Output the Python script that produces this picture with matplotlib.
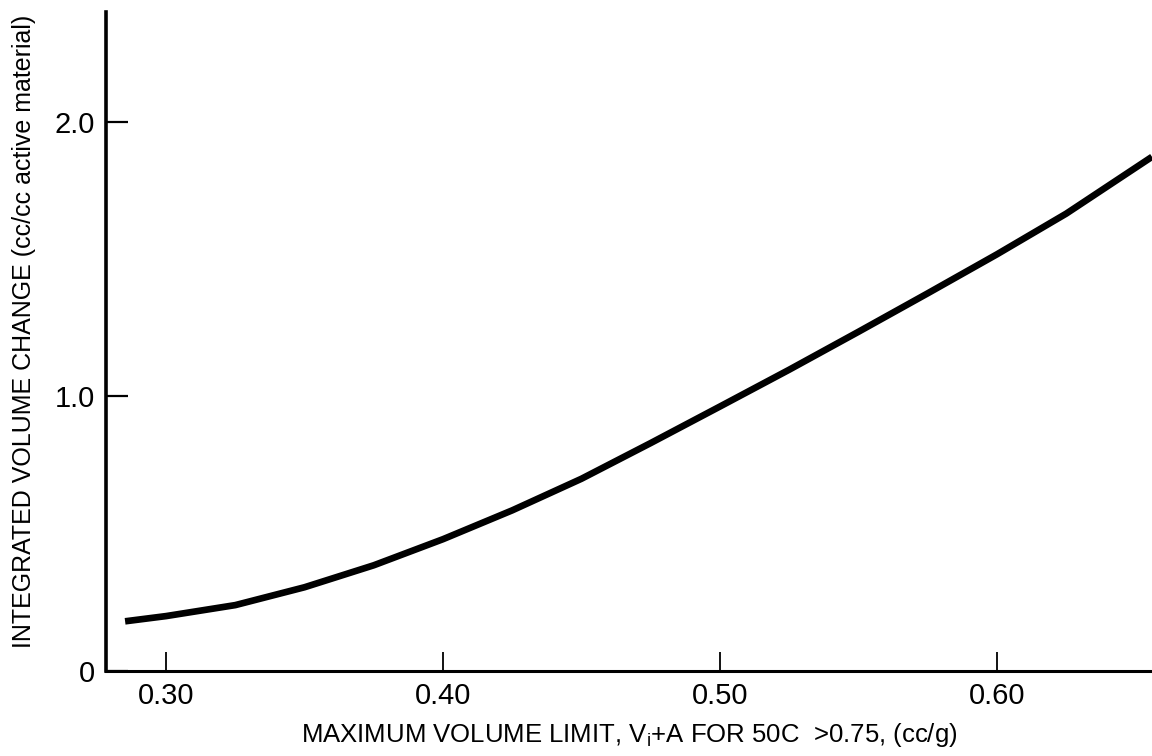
import matplotlib
matplotlib.use("Agg")
import matplotlib.pyplot as plt

plt.rcParams['font.family'] = ['Liberation Sans Narrow', 'Liberation Sans', 'DejaVu Sans']
plt.rcParams['mathtext.fontset'] = 'custom'
plt.rcParams['mathtext.rm'] = 'Liberation Sans'
plt.rcParams['mathtext.it'] = 'Liberation Sans'

# maximum volume limit (cc/g) vs integrated volume change (cc/cc active material)
vol_limit = [0.2852, 0.300, 0.325, 0.350, 0.375, 0.400, 0.425, 0.450, 0.475,
             0.500, 0.525, 0.550, 0.575, 0.600, 0.625, 0.656]
vol_change = [0.181, 0.200, 0.240, 0.305, 0.385, 0.480, 0.585, 0.700, 0.830,
              0.963, 1.097, 1.235, 1.375, 1.517, 1.665, 1.872]

x_ticks = [0.30, 0.40, 0.50, 0.60]
x_ticklabels = ["0.30", "0.40", "0.50", "0.60"]
y_ticks = [0, 1.0, 2.0]
y_ticklabels = ["0", "1.0", "2.0"]

fig = plt.figure(figsize=(11.52, 7.56), dpi=100)
ax = fig.add_axes([0.092, 0.1124, 0.908, 0.872])

ax.plot(vol_limit, vol_change, color="black", linewidth=4.8,
        solid_capstyle="butt", solid_joinstyle="round")

ax.set_xlim(0.2783, 0.656)
ax.set_ylim(0, 2.40)

for side in ["top", "right"]:
    ax.spines[side].set_visible(False)
ax.spines["left"].set_linewidth(2.6)
ax.spines["bottom"].set_linewidth(2.2)

ax.set_xticks(x_ticks)
ax.set_xticklabels(x_ticklabels, fontsize=21)
ax.set_yticks(y_ticks)
ax.set_yticklabels(y_ticklabels, fontsize=21)
ax.tick_params(axis="x", direction="in", length=14, width=1.3, pad=8)
ax.tick_params(axis="y", direction="in", length=16, width=1.6, pad=8)

ax.set_xlabel(r"MAXIMUM VOLUME LIMIT, $\mathregular{V_i}$+A FOR 50C  >0.75, (cc/g)", fontsize=18.5, labelpad=8)
ax.set_ylabel("INTEGRATED VOLUME CHANGE (cc/cc active material)", fontsize=18, labelpad=13)
ax.yaxis.label.set_y(0.515)

fig.savefig("out.png", dpi=100)
